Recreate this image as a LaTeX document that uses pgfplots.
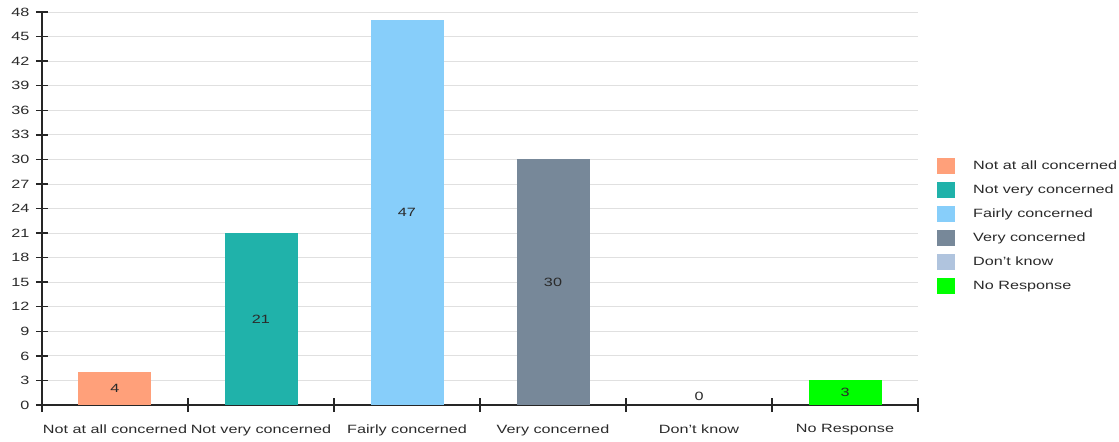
\documentclass[border=0pt]{standalone}
\usepackage{fontspec}
\setmainfont{Liberation Sans}[FakeStretch=1.35]
\usepackage{pgfplots}
\pgfplotsset{compat=1.18}
\definecolor{c1}{HTML}{FFA07A}
\definecolor{c2}{HTML}{20B2AA}
\definecolor{c3}{HTML}{87CEFA}
\definecolor{c4}{HTML}{778899}
\definecolor{c5}{HTML}{B0C4DE}
\definecolor{c6}{HTML}{00FF00}
\definecolor{txt}{HTML}{2A2A2A}
\pgfplotsset{
  mybar/.style={ybar, bar width=0.5, bar shift=0pt, fill=#1, draw=none,
    legend image code/.code={\fill[#1] (0bp,-8bp) rectangle (18bp,8bp);}},
}
\begin{document}
\begin{tikzpicture}[font=\fontsize{12bp}{14bp}\selectfont]
\begin{axis}[
  scale only axis, width=876bp, height=393bp,
  xmin=-0.5, xmax=5.5, ymin=0, ymax=48,
  axis lines=left,
  axis line style={-, line width=1.4bp, color=black!85},
  ytick={0,3,...,48},
  ymajorgrids,
  major grid style={color=black!12, line width=0.8bp},
  xtick={0,...,5},
  xticklabels={Not at all concerned, Not very concerned, Fairly concerned, Very concerned, Don't know, No Response},
  minor xtick={-0.5,0.5,...,5.5},
  tick align=center,
  major tick length=12bp, minor tick length=14bp,
  major x tick style={draw=none},
  tick style={line width=1.4bp, color=black!85},
  minor tick style={line width=1.4bp, color=black!85},
  tick label style={color=txt},
  /pgf/number format/assume math mode=true,
  xticklabel style={yshift=-10bp},
  yticklabel style={xshift=-3bp},
  legend style={draw=none, at={(1,0.455)}, anchor=west, xshift=16bp,
    font=\fontsize{12bp}{14bp}\selectfont, text=txt, row sep=8bp,
    /tikz/every odd column/.append style={column sep=16bp}},
  legend cell align=left,
]
\addplot[mybar=c1] coordinates {(0,4)};
\addplot[mybar=c2] coordinates {(1,21)};
\addplot[mybar=c3] coordinates {(2,47)};
\addplot[mybar=c4] coordinates {(3,30)};
\addplot[mybar=c5] coordinates {(4,0)};
\addplot[mybar=c6] coordinates {(5,3)};
\legend{Not at all concerned, Not very concerned, Fairly concerned, Very concerned, Don't know, No Response}
\addplot[draw=none, mark=none, forget plot, nodes near coords, point meta=explicit symbolic,
  nodes near coords align=center, every node near coord/.append style={text=txt, anchor=center}]
  table[meta=lab] {
x y lab
0 2 4
1 10.5 21
2 23.5 47
3 15 30
4 1 0
5 1.5 3
};
\end{axis}
\pgfresetboundingbox
\useasboundingbox (-42bp,-37bp) rectangle (1077bp,405bp);
\end{tikzpicture}
\end{document}
